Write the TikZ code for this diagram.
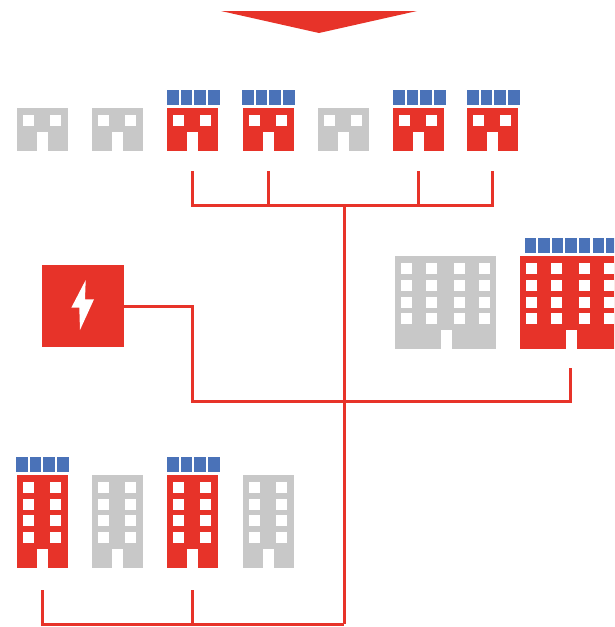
\documentclass[tikz,border=0pt]{standalone}
\usetikzlibrary{calc}
\definecolor{netred}{HTML}{E73329}
\definecolor{offgray}{HTML}{C8C8C8}
\definecolor{panelblue}{HTML}{4A72B8}
\tikzset{wire/.style={draw=netred, line width=3pt},
  bldg/.style={anchor=north west, inner sep=0pt, outer sep=0pt, minimum width=51pt},
  win/.style={fill=white},
  panel/.style={fill=panelblue}}

\begin{document}
\begin{tikzpicture}[x=1pt,y=-1pt]
  \useasboundingbox (0,0) rectangle (614,627);
  \clip (0,0) rectangle (614,627);
  \fill[netred] (221,11) -- (417,11) -- (319,33) -- cycle;
  % top row, low houses
  \foreach \n/\x/\c in {h1/17/offgray,h2/92/offgray,h3/167/netred,h4/243/netred,h5/318/offgray,h6/393/netred,h7/467/netred}{
    \node[bldg, fill=\c, minimum height=43pt] (\n) at (\x,108) {};
    \fill[win] (\x+6,115) rectangle +(11,11);
    \fill[win] (\x+33,115) rectangle +(11,11);
    \fill[win] (\x+20,132) rectangle (\x+31,151);
  }
  \foreach \x in {167,242,393,467}
    \foreach \k in {0,1,2,3}
      \fill[panel] (\x+\k*13.7,90) rectangle +(11.5,15);
  % bottom row, tall blocks
  \foreach \n/\x/\c in {t1/17/netred,t2/92/offgray,t3/167/netred,t4/243/offgray}{
    \node[bldg, fill=\c, minimum height=93pt] (\n) at (\x,475) {};
    \foreach \y in {482,499,515,532}{
      \fill[win] (\x+6,\y) rectangle +(11,11);
      \fill[win] (\x+33,\y) rectangle +(11,11);
    }
    \fill[win] (\x+20,549) rectangle (\x+31,568);
  }
  \foreach \x in {16,167}
    \foreach \k in {0,1,2,3}
      \fill[panel] (\x+\k*13.7,457) rectangle +(11.5,15);
  % wide blocks (right)
  \foreach \n/\x/\c in {wg/395/offgray,wr/520/netred}{
    \node[bldg, fill=\c, minimum width=101pt, minimum height=93pt] (\n) at (\x,256) {};
    \foreach \y in {263,280,297,313}
      \foreach \d in {6,31,59,84}
        \fill[win] (\x+\d,\y) rectangle +(11,11);
    \fill[win] (\x+46,330) rectangle (\x+56.5,349);
  }
  \foreach \k in {0,...,6}
    \fill[panel] (524.5+\k*13.6,238) rectangle +(11.5,15);
  % power source
  \node[anchor=north west, fill=netred, inner sep=0pt, minimum size=82pt] (pwr) at (42,265) {};
  \fill[white] (85.7,280) -- (71.3,307.7) -- (79.3,307.7) -- (80,330) -- (94,299.3) -- (85,299.3) -- cycle;
  % network
  \coordinate (busA) at (344,205);
  \coordinate (busB) at (344,401);
  \coordinate (busC) at (344,624);
  \draw[wire] (busA) -- (busC);
  \foreach \n in {h3,h4,h6,h7}
    \draw[wire] ($(\n.south)+(0,20)$) |- (busA);
  \draw[wire] (pwr.east) -| (h3.south |- busB) -- (busB);
  \draw[wire] ($(wr.south)+(0,19)$) |- (busB);
  \foreach \n in {t1,t3}
    \draw[wire] ($(\n.south)+(0,22)$) |- (busC);
\end{tikzpicture}
\end{document}
